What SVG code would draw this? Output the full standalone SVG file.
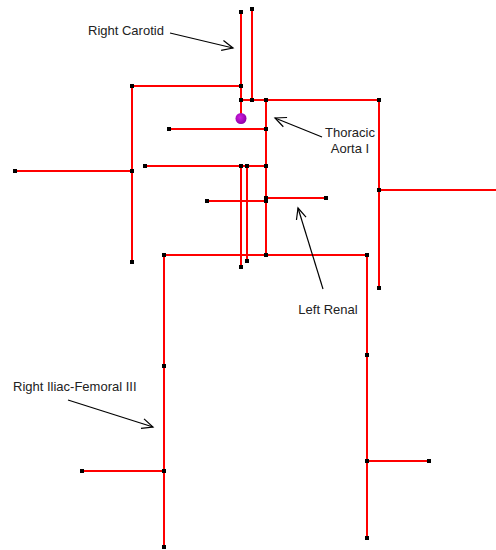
<svg xmlns="http://www.w3.org/2000/svg" width="496" height="550" viewBox="0 0 496 550">
<style>
.v{stroke:#ff0000;stroke-width:2;fill:none;stroke-linecap:butt}
.n{fill:#000}
.lbl{font-family:"Liberation Sans",Arial,sans-serif;font-size:13px;fill:#222}
.arr{stroke:#000;stroke-width:1.2;fill:none;marker-end:url(#ah)}
</style>
<defs>
<marker id="ah" markerUnits="userSpaceOnUse" markerWidth="24" markerHeight="24" viewBox="-12 -12 24 24" refX="0" refY="0" orient="auto">
<path d="M-11,-5 L0,0 L-11,5" fill="none" stroke="#000" stroke-width="1.2"/>
</marker>
<radialGradient id="pg" cx="0.4" cy="0.4" r="0.6">
<stop offset="0" stop-color="#d020e0"/>
<stop offset="1" stop-color="#9000a8"/>
</radialGradient>
</defs>
<rect width="496" height="550" fill="#fff"/>
<g id="connectors">
<path class="v" d="M241,12 V118"/>
<path class="v" d="M252,9 V100"/>
<path class="v" d="M132,86 H241"/>
<path class="v" d="M132,86 V262"/>
<path class="v" d="M15,171 H132"/>
<path class="v" d="M241,100 H379"/>
<path class="v" d="M266,100 V255"/>
<path class="v" d="M169,129 H266"/>
<path class="v" d="M145,166 H266"/>
<path class="v" d="M241,166 V267"/>
<path class="v" d="M247,166 V261"/>
<path class="v" d="M207,201 H266"/>
<path class="v" d="M266,198 H326"/>
<path class="v" d="M379,100 V288"/>
<path class="v" d="M379,190 H496"/>
<path class="v" d="M164,255 H367"/>
<path class="v" d="M164,255 V547"/>
<path class="v" d="M82,471 H164"/>
<path class="v" d="M367,255 V538"/>
<path class="v" d="M367,461 H429"/>
</g>
<g id="nodes">
<g id="n1"><rect class="n" x="239" y="10" width="4" height="4"/></g>
<g id="n2"><rect class="n" x="250" y="7" width="4" height="4"/></g>
<g id="n3"><rect class="n" x="239" y="84" width="4" height="4"/></g>
<g id="n4"><rect class="n" x="130" y="84" width="4" height="4"/></g>
<g id="n5"><rect class="n" x="239" y="98" width="4" height="4"/></g>
<g id="n6"><rect class="n" x="250" y="98" width="4" height="4"/></g>
<g id="n7"><rect class="n" x="264" y="98" width="4" height="4"/></g>
<g id="n8"><rect class="n" x="377" y="98" width="4" height="4"/></g>
<g id="n9"><rect class="n" x="167" y="127" width="4" height="4"/></g>
<g id="n10"><rect class="n" x="264" y="127" width="4" height="4"/></g>
<g id="n11"><rect class="n" x="143" y="164" width="4" height="4"/></g>
<g id="n12"><rect class="n" x="239" y="164" width="4" height="4"/></g>
<g id="n13"><rect class="n" x="245" y="164" width="4" height="4"/></g>
<g id="n14"><rect class="n" x="264" y="164" width="4" height="4"/></g>
<g id="n15"><rect class="n" x="130" y="169" width="4" height="4"/></g>
<g id="n16"><rect class="n" x="13" y="169" width="4" height="4"/></g>
<g id="n17"><rect class="n" x="205" y="199" width="4" height="4"/></g>
<g id="n18"><rect class="n" x="264" y="196" width="4" height="7"/></g>
<g id="n19"><rect class="n" x="324" y="196" width="4" height="4"/></g>
<g id="n20"><rect class="n" x="377" y="188" width="4" height="4"/></g>
<g id="n21"><rect class="n" x="130" y="260" width="4" height="4"/></g>
<g id="n22"><rect class="n" x="239" y="265" width="4" height="4"/></g>
<g id="n23"><rect class="n" x="245" y="259" width="4" height="4"/></g>
<g id="n24"><rect class="n" x="162" y="253" width="4" height="4"/></g>
<g id="n25"><rect class="n" x="264" y="253" width="4" height="4"/></g>
<g id="n26"><rect class="n" x="365" y="253" width="4" height="4"/></g>
<g id="n27"><rect class="n" x="377" y="286" width="4" height="4"/></g>
<g id="n28"><rect class="n" x="162" y="364" width="4" height="4"/></g>
<g id="n29"><rect class="n" x="162" y="469" width="4" height="4"/></g>
<g id="n30"><rect class="n" x="80" y="469" width="4" height="4"/></g>
<g id="n31"><rect class="n" x="162" y="545" width="4" height="4"/></g>
<g id="n32"><rect class="n" x="365" y="353" width="4" height="4"/></g>
<g id="n33"><rect class="n" x="365" y="459" width="4" height="4"/></g>
<g id="n34"><rect class="n" x="427" y="459" width="4" height="4"/></g>
<g id="n35"><rect class="n" x="365" y="536" width="4" height="4"/></g>
<g id="probe"><circle cx="241" cy="118.5" r="5.5" fill="url(#pg)"/></g>
</g>
<g id="labels">
<text class="lbl" x="88" y="35">Right Carotid</text>
<text class="lbl" x="350" y="137" text-anchor="middle">Thoracic</text>
<text class="lbl" x="350" y="153" text-anchor="middle">Aorta I</text>
<text class="lbl" x="328" y="314" text-anchor="middle">Left Renal</text>
<text class="lbl" x="13" y="391">Right Iliac-Femoral III</text>
<path class="arr" d="M170,33 L233,48"/>
<path class="arr" d="M322,137 L275,118"/>
<path class="arr" d="M323,289 L298,208"/>
<path class="arr" d="M68,400 L153,427"/>
</g>
</svg>
